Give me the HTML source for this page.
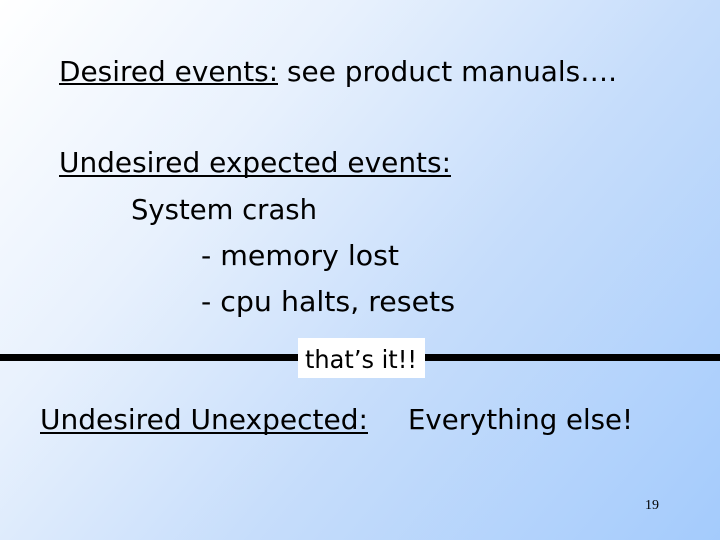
<!DOCTYPE html>
<html><head><meta charset="utf-8"><style>
html,body{margin:0;padding:0;width:720px;height:540px;overflow:hidden}
body{background:linear-gradient(130deg,#ffffff 0%,#e8f1fd 30%,#c6ddfb 60%,#a4cbfc 100%)}
svg{position:absolute;left:0;top:0}
text{font-family:"DejaVu Sans","Liberation Sans",sans-serif;font-size:28px;fill:#000}
</style></head><body>
<svg width="720" height="540" xmlns="http://www.w3.org/2000/svg">
<text x="59" y="81" textLength="558" lengthAdjust="spacingAndGlyphs">Desired events: see product manuals….</text>
<rect x="59" y="83" width="219" height="2"/>
<text x="59" y="172" textLength="392" lengthAdjust="spacingAndGlyphs">Undesired expected events:</text>
<rect x="59" y="175" width="392" height="2"/>
<text x="131" y="219" textLength="186" lengthAdjust="spacingAndGlyphs">System crash</text>
<text x="201" y="265" textLength="198" lengthAdjust="spacingAndGlyphs">- memory lost</text>
<text x="201" y="311" textLength="254" lengthAdjust="spacingAndGlyphs">- cpu halts, resets</text>
<rect x="0" y="354" width="720" height="7"/>
<rect x="298" y="338" width="127" height="40" fill="#fff"/>
<text x="305" y="368" textLength="112" lengthAdjust="spacingAndGlyphs" style="font-size:25px">that’s it!!</text>
<text x="40" y="429" textLength="328" lengthAdjust="spacingAndGlyphs">Undesired Unexpected:</text>
<rect x="40" y="432" width="328" height="2"/>
<text x="408" y="429" textLength="225" lengthAdjust="spacingAndGlyphs">Everything else!</text>
<text x="645" y="509" style="font-family:'Liberation Serif',serif;font-size:14px">19</text>
</svg>
</body></html>
